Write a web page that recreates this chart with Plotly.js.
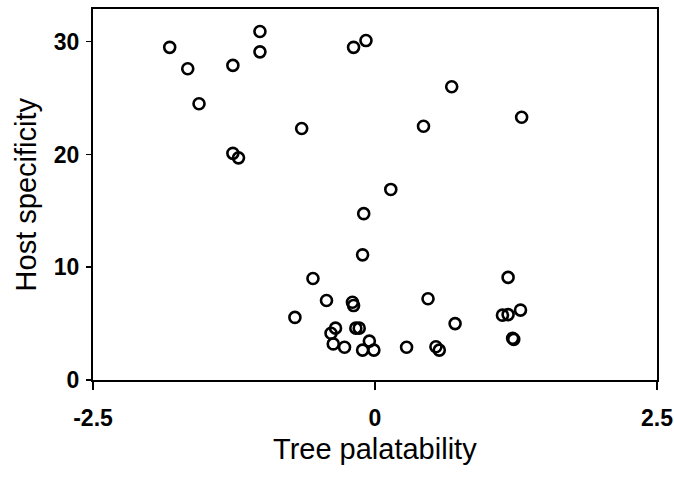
<!DOCTYPE html>
<html>
<head>
<meta charset="utf-8">
<script src="https://cdn.plot.ly/plotly-3.0.1.min.js"></script>
<style>html,body{margin:0;padding:0;background:#fff;}#chart{width:674px;height:480px;}</style>
</head>
<body>
<div id="chart"></div>
<script>
var palatability = [-1.82, -1.66, -1.56, -1.26, -1.02, -1.02, -0.65, -1.26, -1.21, -0.19, -0.08,
  0.68, 0.43, 1.30, 0.14,
  -0.10, -0.11, -0.55, -0.43, -0.20, -0.19, -0.71, -0.35, -0.39, -0.17, -0.14, -0.37, -0.27, -0.05, -0.11, -0.01,
  1.18, 0.47, 0.71, 1.13, 1.18, 1.29, 1.22, 1.23, 0.28, 0.54, 0.57];
var specificity = [29.5, 27.6, 24.5, 27.9, 30.9, 29.1, 22.3, 20.1, 19.7, 29.5, 30.1,
  26.0, 22.5, 23.3, 16.9,
  14.75, 11.1, 9.0, 7.05, 6.9, 6.6, 5.55, 4.6, 4.15, 4.6, 4.6, 3.2, 2.9, 3.45, 2.65, 2.65,
  9.1, 7.2, 5.0, 5.75, 5.8, 6.2, 3.7, 3.6, 2.9, 2.95, 2.65];
var xTicks = [-2.5, 0, 2.5];
var xTickLabels = ['-2.5', '0', '2.5'];
var yTicks = [0, 10, 20, 30];
var yTickLabels = ['0', '10', '20', '30'];
var xTitle = 'Tree palatability';
var yTitle = 'Host specificity';

var trace = {
  x: palatability, y: specificity, type: 'scatter', mode: 'markers',
  marker: {symbol: 'circle-open', size: 11, color: '#000', line: {width: 2.6, color: '#000'}},
  hoverinfo: 'none'
};
var layout = {
  width: 674, height: 480,
  margin: {l: 93, r: 17, t: 9, b: 100},
  paper_bgcolor: '#fff', plot_bgcolor: '#fff',
  showlegend: false,
  font: {family: 'Liberation Sans, Arial, sans-serif', color: '#000'},
  xaxis: {
    range: [-2.5, 2.5], tickmode: 'array', tickvals: xTicks, ticktext: xTickLabels,
    showgrid: false, zeroline: false, showline: true, linewidth: 2, linecolor: '#000', mirror: true,
    ticks: 'outside', ticklen: 8, tickwidth: 1.5, tickcolor: '#000', ticklabelstandoff: 8,
    tickfont: {size: 23, weight: 'bold', family: 'Liberation Sans, Arial, sans-serif'}
  },
  yaxis: {
    range: [0, 32.9], tickmode: 'array', tickvals: yTicks, ticktext: yTickLabels,
    showgrid: false, zeroline: false, showline: true, linewidth: 2, linecolor: '#000', mirror: true,
    ticks: 'outside', ticklen: 5, tickwidth: 1.5, tickcolor: '#000', ticklabelstandoff: 2,
    tickfont: {size: 23, weight: 'bold', family: 'Liberation Sans, Arial, sans-serif'}
  },
  annotations: [
    {text: xTitle, xref: 'paper', yref: 'paper', x: 0.5, y: -0.186, xanchor: 'center', yanchor: 'middle',
     showarrow: false, font: {size: 29}},
    {text: yTitle, xref: 'paper', yref: 'paper', x: -0.119, y: 0.5, xanchor: 'center', yanchor: 'middle',
     textangle: -90, showarrow: false, font: {size: 29}}
  ]
};
Plotly.newPlot('chart', [trace], layout, {displayModeBar: false, staticPlot: true});
</script>
</body>
</html>
